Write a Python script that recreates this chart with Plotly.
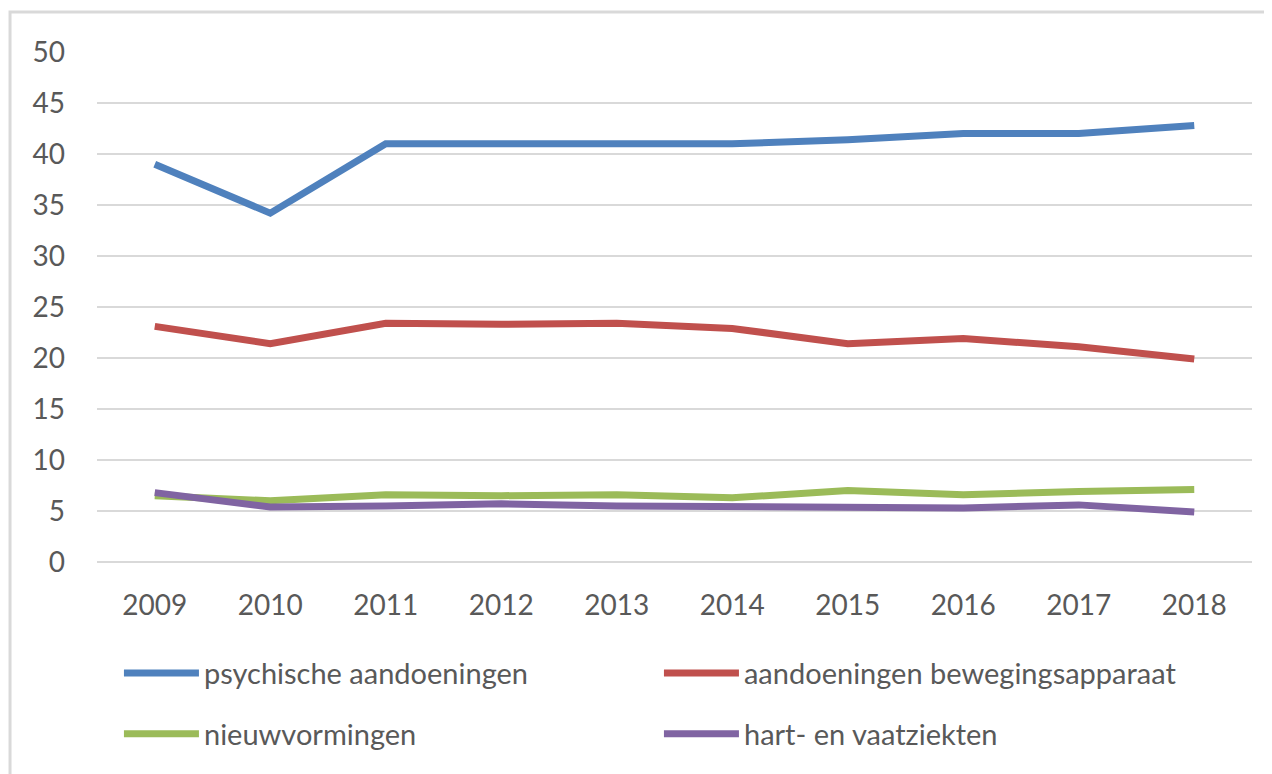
import plotly.graph_objects as go

years = ["2009", "2010", "2011", "2012", "2013", "2014", "2015", "2016", "2017", "2018"]

psychisch = [39.0, 34.2, 41.0, 41.0, 41.0, 41.0, 41.4, 42.0, 42.0, 42.8]
bewegingsapparaat = [23.1, 21.4, 23.4, 23.3, 23.4, 22.9, 21.4, 21.9, 21.1, 19.9]
nieuwvormingen = [6.5, 6.0, 6.6, 6.5, 6.6, 6.3, 7.0, 6.6, 6.9, 7.1]
hart_vaat = [6.8, 5.4, 5.5, 5.7, 5.5, 5.4, 5.3, 5.3, 5.6, 4.9]

FONT = "Lato"
GREY = "#595959"

series = [
    ("psychische aandoeningen", psychisch, "#4F81BD", "legend"),
    ("aandoeningen bewegingsapparaat", bewegingsapparaat, "#C0504D", "legend"),
    ("nieuwvormingen", nieuwvormingen, "#9BBB59", "legend2"),
    ("hart- en vaatziekten", hart_vaat, "#8064A2", "legend2"),
]

fig = go.Figure()
for name, vals, color, leg in series:
    fig.add_trace(go.Scatter(
        x=years, y=vals, name=name, mode="lines",
        line=dict(color=color, width=7),
        legend=leg,
    ))

legend_style = dict(
    orientation="h", xanchor="left", yanchor="middle",
    font=dict(family=FONT, size=29, color=GREY),
    entrywidth=450, entrywidthmode="pixels",
    itemwidth=75, bgcolor="rgba(0,0,0,0)",
)

# page body has an 8px margin, so the figure is 8px smaller than the window
fig.update_layout(
    width=1264, height=766,
    margin=dict(l=89, r=20, t=44, b=212),
    paper_bgcolor="white", plot_bgcolor="white",
    font=dict(family=FONT, size=28, color=GREY),
    showlegend=True,
    legend=dict(x=0.019, y=-0.218, **legend_style),
    legend2=dict(x=0.019, y=-0.337, **legend_style),
    xaxis=dict(
        type="category", range=[-0.5, 9.5], showgrid=False, showline=False, ticks="",
        ticklabelstandoff=24, tickfont=dict(size=28, color=GREY),
    ),
    yaxis=dict(
        range=[0, 50], dtick=5, showgrid=True, gridcolor="#D9D9D9", gridwidth=2,
        zeroline=True, zerolinecolor="#D9D9D9", zerolinewidth=2,
        showline=False, ticks="", ticklabelstandoff=31,
        tickfont=dict(size=28, color=GREY),
    ),
    shapes=[dict(
        type="rect", xref="paper", yref="paper",
        x0=-0.0753, x1=1.2, y0=-0.6, y1=1.0784,
        line=dict(color="#D9D9D9", width=3), layer="below",
    )],
)

fig.write_html("out.html")
